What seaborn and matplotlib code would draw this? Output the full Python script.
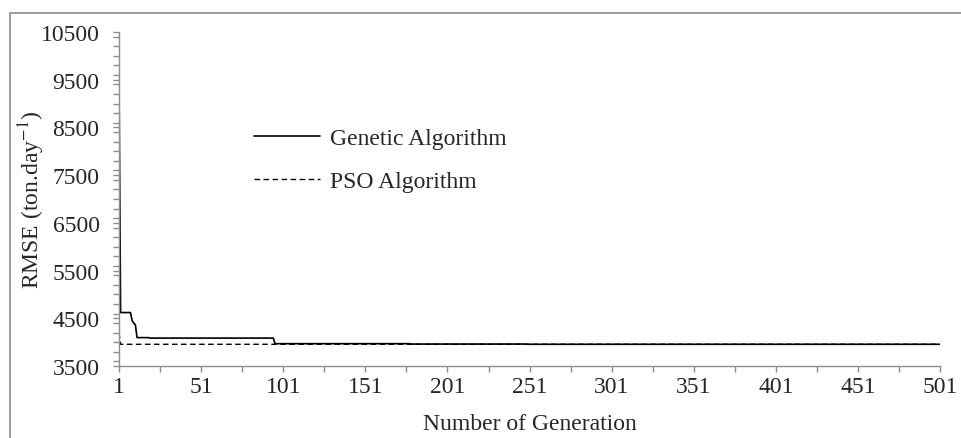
import numpy as np
import pandas as pd
import matplotlib
matplotlib.use("Agg")
import matplotlib.pyplot as plt
import seaborn as sns
from matplotlib.patches import Rectangle
from matplotlib.ticker import FixedLocator, MultipleLocator

# breakpoints of the convergence curves (generation, RMSE)
ga_gen = [1, 2, 8, 9, 10, 11, 12, 19, 20, 95, 96, 178, 179, 249, 250, 501]
ga_rmse = [9660, 4620, 4620, 4450, 4400, 4360, 4095, 4095, 4085, 4085, 3968,
           3968, 3960, 3960, 3955, 3955]
pso_gen = [1, 2, 501]
pso_rmse = [4200, 3955, 3955]

x_labels = [1, 51, 101, 151, 201, 251, 301, 351, 401, 451, 501]
y_labels = [3500, 4500, 5500, 6500, 7500, 8500, 9500, 10500]

sns.set_style("ticks")
plt.rcParams['font.family'] = ['Liberation Serif', 'DejaVu Serif']
plt.rcParams['mathtext.fontset'] = 'stix'

fs = 17

fig = plt.figure(figsize=(9.61, 4.39), dpi=100)
ax = fig.add_axes([0.1238, 0.164, 0.8545, 0.761])

ga = pd.DataFrame({"gen": ga_gen, "rmse": ga_rmse})
pso = pd.DataFrame({"gen": pso_gen, "rmse": pso_rmse})

sns.lineplot(data=ga, x="gen", y="rmse", ax=ax, color="black", lw=1.2,
             label="Genetic Algorithm")
sns.lineplot(data=pso, x="gen", y="rmse", ax=ax, color="black", lw=1.0,
             label="PSO Algorithm")
ax.lines[1].set_dashes((4, 2.5))

ax.set_xlim(1, 501)
ax.set_ylim(3500, 10500)
ax.set_xticks(x_labels)
ax.set_xticklabels([str(v) for v in x_labels])
ax.xaxis.set_minor_locator(FixedLocator(np.arange(26, 501, 50)))
ax.set_yticks(y_labels)
ax.set_yticklabels([str(v) for v in y_labels])
ax.yaxis.set_minor_locator(MultipleLocator(200))

gray = "#8c8c8c"
for s in ["top", "right"]:
    ax.spines[s].set_visible(False)
for s in ["left", "bottom"]:
    ax.spines[s].set_color(gray)
    ax.spines[s].set_linewidth(1.0)

ax.tick_params(axis="both", which="both", direction="out", color=gray,
               length=4, width=1.0)
ax.tick_params(axis="y", which="major", pad=10, labelsize=fs)
ax.tick_params(axis="x", which="major", pad=3, labelsize=fs)

ax.set_xlabel("Number of Generation", fontsize=fs, labelpad=12)
ax.set_ylabel("RMSE (ton.day$^{-1}$)", fontsize=fs, labelpad=-4.5)

leg = ax.legend(loc="upper left", bbox_to_anchor=(0.164, 0.714), frameon=False,
                fontsize=fs, handlelength=2.8, handletextpad=0.42,
                labelspacing=0.92, borderaxespad=0, borderpad=0)

fig.patches.append(Rectangle((10 / 961, -0.1), 1.0, (439 - 14) / 439 + 0.1,
                             transform=fig.transFigure, fill=False,
                             edgecolor=gray, lw=1.2))

fig.savefig("out.png", dpi=100)
